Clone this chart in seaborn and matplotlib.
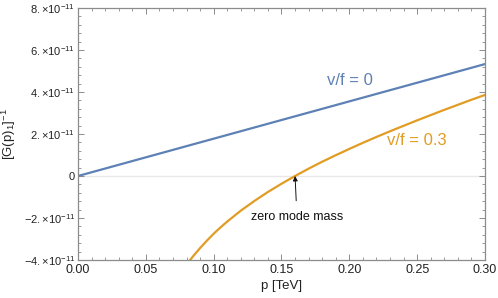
import numpy as np
import pandas as pd
import matplotlib
matplotlib.use('Agg')
import matplotlib.pyplot as plt
from matplotlib.ticker import MultipleLocator, FixedLocator, FixedFormatter
import seaborn as sns

# values, in units of 1e-11
p_v0 = [0.0, 0.30]
g_v0 = [0.0, 5.33]

p_v03 = [0.082, 0.085, 0.09, 0.095, 0.10, 0.105, 0.11, 0.12, 0.13, 0.14, 0.15,
         0.16, 0.17, 0.18, 0.19, 0.20, 0.21, 0.22, 0.23, 0.24, 0.25, 0.26,
         0.27, 0.28, 0.29, 0.30]
g_v03 = [-4.05, -3.81, -3.43, -3.08, -2.75, -2.45, -2.17, -1.65, -1.19, -0.76, -0.37,
         0.00, 0.35, 0.68, 0.99, 1.29, 1.58, 1.86, 2.13, 2.39, 2.65, 2.90,
         3.15, 3.39, 3.63, 3.86]

ytick_vals = [-4, -2, 0, 2, 4, 6, 8]
ytick_labels = [r'$-4.{\times}10^{-11}$', r'$-2.{\times}10^{-11}$', '0',
                r'$2.{\times}10^{-11}$', r'$4.{\times}10^{-11}$',
                r'$6.{\times}10^{-11}$', r'$8.{\times}10^{-11}$']
xtick_vals = [0.00, 0.05, 0.10, 0.15, 0.20, 0.25, 0.30]

blue = '#5e81b5'
orange = '#e19c24'
frame = '#8c8c8c'

df = pd.concat([
    pd.DataFrame({'p': p_v0, 'g': np.array(g_v0) * 1e-11, 'vf': 'v/f = 0'}),
    pd.DataFrame({'p': p_v03, 'g': np.array(g_v03) * 1e-11, 'vf': 'v/f = 0.3'}),
])

sns.set_style('ticks')
plt.rcParams['font.family'] = ['Liberation Sans', 'DejaVu Sans']
plt.rcParams['mathtext.fontset'] = 'custom'
plt.rcParams['mathtext.rm'] = 'Liberation Sans'
plt.rcParams['mathtext.it'] = 'Liberation Sans:italic'

fig = plt.figure(figsize=(4.98, 2.98), dpi=100)
ax = fig.add_axes([0.1566, 0.1275, 0.8173, 0.8457])

ax.axhline(0, color='#e8e8e8', lw=1.0, zorder=0)
sns.lineplot(data=df, x='p', y='g', hue='vf', palette=[blue, orange],
             lw=1.6, legend=False, ax=ax, sort=False)

ax.set_xlim(0, 0.30)
ax.set_ylim(-4e-11, 8e-11)
ax.xaxis.set_major_locator(FixedLocator(xtick_vals))
ax.set_xticklabels([f'{v:.2f}' for v in xtick_vals])
ax.xaxis.set_minor_locator(MultipleLocator(0.01))
ax.yaxis.set_major_locator(FixedLocator([v * 1e-11 for v in ytick_vals]))
ax.yaxis.set_major_formatter(FixedFormatter(ytick_labels))
ax.yaxis.set_minor_locator(MultipleLocator(0.4e-11))

for s in ax.spines.values():
    s.set_color(frame)
    s.set_linewidth(0.9)
ax.tick_params(which='both', direction='in', top=True, right=True,
               color=frame, labelcolor='#222222')
ax.tick_params(which='major', length=4, width=0.7)
ax.tick_params(which='minor', length=2, width=0.6)
ax.tick_params(axis='x', pad=3, labelsize=9)
ax.tick_params(axis='y', pad=2, labelsize=8)

ax.set_xlabel('p [TeV]', fontsize=9.5, color='#222222', labelpad=3)
ax.set_ylabel(r'$[\mathrm{G(p)}_1]^{-1}$', fontsize=9.5, color='#222222', labelpad=4)

ax.text(0.2005, 4.57e-11, 'v/f = 0', color=blue, fontsize=12, ha='center', va='center')
ax.text(0.2499, 1.67e-11, 'v/f = 0.3', color=orange, fontsize=12, ha='center', va='center')
ax.annotate('zero mode mass', xy=(0.16, 0), xytext=(0.1614, -1.95e-11),
            fontsize=9, color='#111111', ha='center', va='center',
            arrowprops=dict(arrowstyle='-|>', color='#111111', lw=0.7,
                            mutation_scale=7, shrinkA=5, shrinkB=0))

fig.savefig('out.png', dpi=100)
